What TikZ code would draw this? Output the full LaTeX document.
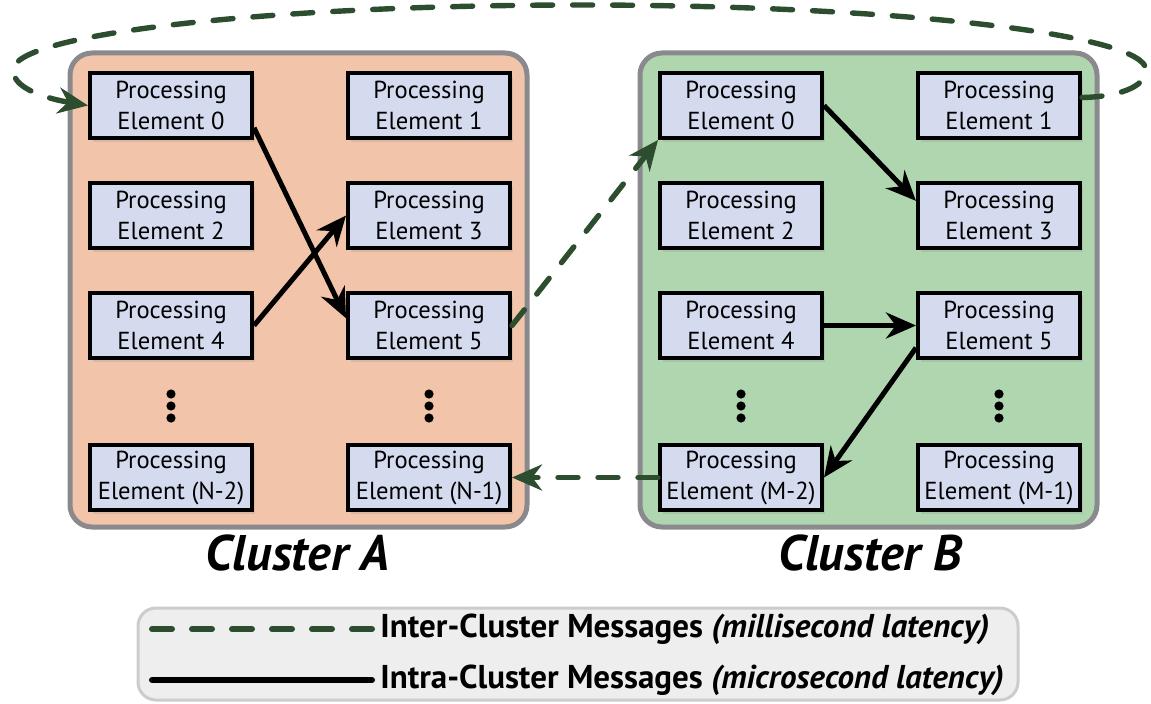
\documentclass[tikz,border=0pt]{standalone}
\usepackage{fontspec}
\setmainfont{PT Sans}
\usetikzlibrary{arrows.meta,positioning,shadows}

\definecolor{clusterA}{RGB}{242,196,170}
\definecolor{clusterB}{RGB}{176,214,176}
\definecolor{peFill}{RGB}{212,219,239}
\definecolor{interGreen}{RGB}{45,77,47}
\definecolor{rimGray}{RGB}{138,138,142}

\begin{document}
\begin{tikzpicture}[x=0.5pt,y=0.5pt,>={Stealth[length=15pt,width=13pt]},node distance=20.5pt and 46pt,
  pe/.style={rectangle,draw,line width=2pt,fill=peFill,minimum width=81pt,minimum height=32.5pt,inner sep=0pt,align=center,font=\fontsize{12.3}{15.5}\selectfont,drop shadow={shadow xshift=1.5pt,shadow yshift=-2pt,opacity=0.2}},
  cluster/.style={rectangle,rounded corners=11pt,draw=rimGray,line width=2.5pt,minimum width=228.5pt,minimum height=237pt},
  cluster label/.style={font=\bfseries\itshape\fontsize{25}{30}\selectfont},
  inter/.style={draw=interGreen,line width=2.7pt,line cap=round,dash pattern=on 10pt off 10pt},
  intra/.style={draw=black,line width=2.5pt},
  legend text/.style={font=\bfseries\fontsize{16.5}{19}\selectfont,inner sep=4pt}]

  \useasboundingbox (0,0) rectangle (1151,703);

  % clusters
  \node[cluster,fill=clusterA] (clA) at (298.5,413) {};
  \node[cluster,fill=clusterB] (clB) at (868.5,413) {};
  \node[cluster label] (labA) at (298,150) {Cluster A};
  \node[cluster label] (labB) at (870,150) {Cluster B};

  % cluster A elements
  \node[pe] (a0) at (171,597.5) {Processing\\Element 0};
  \node[pe] (a1) [right=of a0] {Processing\\Element 1};
  \node[pe] (a2) [below=of a0] {Processing\\Element 2};
  \node[pe] (a3) [right=of a2] {Processing\\Element 3};
  \node[pe] (a4) [below=of a2] {Processing\\Element 4};
  \node[pe] (a5) [right=of a4] {Processing\\Element 5};
  \node[pe] (a6) [below=41.5pt of a4] {Processing\\Element (N-2)};
  \node[pe] (a7) [right=of a6] {Processing\\Element (N-1)};

  % cluster B elements
  \node[pe] (b0) at (741,597.5) {Processing\\Element 0};
  \node[pe] (b1) [right=of b0] {Processing\\Element 1};
  \node[pe] (b2) [below=of b0] {Processing\\Element 2};
  \node[pe] (b3) [right=of b2] {Processing\\Element 3};
  \node[pe] (b4) [below=of b2] {Processing\\Element 4};
  \node[pe] (b5) [right=of b4] {Processing\\Element 5};
  \node[pe] (b6) [below=41.5pt of b4] {Processing\\Element (M-2)};
  \node[pe] (b7) [right=of b6] {Processing\\Element (M-1)};

  % vertical dots
  \foreach \n in {a4,a5,b4,b5}
    \foreach \d in {17,23,29}
      \fill ([yshift=-\d pt]\n.south) circle[radius=2.3pt];

  % intra-cluster messages
  \draw[intra,->] (a0.-15) -- (a5.175);
  \draw[intra,->] (a4.east) -- (a3.west);
  \draw[intra,->] (b0.east) -- (b3.170);
  \draw[intra,->] (b4.east) -- (b5.west);
  \draw[intra,->] (b5.195) -- (b6.east);

  % inter-cluster messages
  \draw[inter,->] (a5.east) -- (b0.south west);
  \draw[inter,->] (b6.west) -- (a7.east);
  \draw[inter,->] ([yshift=4pt]b1.east) .. controls (1115,606) and (1146,615) .. (1146,633)
    .. controls (1146,669) and (892,698) .. (580,698)
    .. controls (268,698) and (13,669) .. (13,633)
    .. controls (13,612) and (55,603) .. (a0.west);

  % legend
  \node[rectangle,rounded corners=9pt,draw=gray!40,line width=1.5pt,fill=gray!13,minimum width=440pt,minimum height=46pt] (legend) at (578,49) {};
  \coordinate (l1) at (152,74);
  \coordinate (l2) at (152,23);
  \node[legend text,anchor=west] (t1) at (372,74) {Inter-Cluster Messages \textit{(millisecond latency)}};
  \node[legend text,anchor=west] (t2) at (372,23) {Intra-Cluster Messages \textit{(microsecond latency)}};
  \draw[inter,line width=3pt] (l1) -- (t1);
  \draw[intra,line width=3pt,line cap=round] (l2) -- (t2);
\end{tikzpicture}
\end{document}
